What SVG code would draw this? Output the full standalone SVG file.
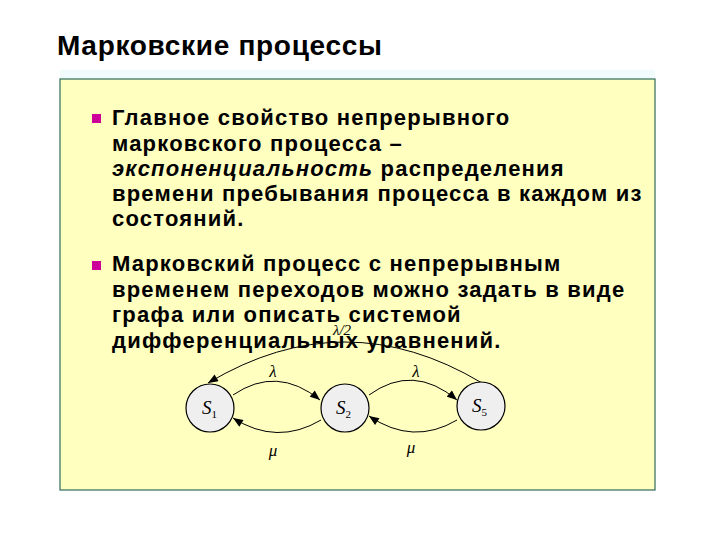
<svg xmlns="http://www.w3.org/2000/svg" width="720" height="540" viewBox="0 0 720 540">
<defs>
<style>
.title{font-family:"Liberation Sans",Arial,sans-serif;font-weight:bold;font-size:28px;letter-spacing:0.7px;fill:#000}
.body{font-family:"Liberation Sans",Arial,sans-serif;font-weight:bold;font-size:22px;letter-spacing:1.2px;fill:#000}
.math{font-family:"Liberation Serif","Times New Roman",serif;font-style:italic;fill:#000}
.node circle{fill:#efefef;stroke:#000;stroke-width:1.2}
.edge{fill:none;stroke:#000;stroke-width:1}
.bullet{fill:#cc0099}
</style>
<marker id="arr" viewBox="0 0 10 8" refX="10" refY="4" markerWidth="11" markerHeight="8" markerUnits="userSpaceOnUse" orient="auto">
<path d="M0,0 L10,4 L0,8 z" fill="#000"/>
</marker>
</defs>
<rect x="0" y="0" width="720" height="540" fill="#fff"/>
<text class="title" x="57" y="55">Марковские процессы</text>
<rect x="60" y="70" width="595" height="9" fill="#f2fbfb"/>
<rect x="60" y="79" width="595" height="411" fill="#ffffc0" stroke="#2f6b5a" stroke-width="1.2"/>
<rect class="bullet" x="92" y="114" width="9" height="9"/>
<text class="body" x="112" y="125">Главное свойство непрерывного</text>
<text class="body" x="112" y="151">марковского процесса –</text>
<text class="body" x="112" y="176"><tspan font-style="italic">экспоненциальность</tspan> распределения</text>
<text class="body" x="112" y="201">времени пребывания процесса в каждом из</text>
<text class="body" x="112" y="226">состояний.</text>
<rect class="bullet" x="92" y="261" width="9" height="9"/>
<text class="body" x="112" y="271">Марковский процесс с непрерывным</text>
<text class="body" x="112" y="297">временем переходов можно задать в виде</text>
<text class="body" x="112" y="322">графа или описать системой</text>
<text class="body" x="112" y="348">дифференциальных уравнений.</text>
<g id="connectors">
<path class="edge" d="M233,395 Q277,365 320,400" marker-end="url(#arr)"/>
<path class="edge" d="M321,420 Q277,446 233,418" marker-end="url(#arr)"/>
<path class="edge" d="M369,395 Q413,363 457,400" marker-end="url(#arr)"/>
<path class="edge" d="M457,420 Q413,446 369,416" marker-end="url(#arr)"/>
<path class="edge" d="M482,383 Q345,301 208,383" marker-end="url(#arr)"/>
<text class="math" x="273" y="377" font-size="17" text-anchor="middle">λ</text>
<text class="math" x="273" y="456" font-size="17" text-anchor="middle">μ</text>
<text class="math" x="416" y="377" font-size="17" text-anchor="middle">λ</text>
<text class="math" x="411" y="453" font-size="17" text-anchor="middle">μ</text>
<text class="math" x="342" y="335" font-size="15" text-anchor="middle">λ/2</text>
</g>
<g id="S1" class="node">
<circle cx="210" cy="408" r="24"/>
<text class="math" x="202" y="414" font-size="19">S<tspan font-size="11" dy="4" font-style="normal">1</tspan></text>
</g>
<g id="S2" class="node">
<circle cx="345" cy="408" r="24"/>
<text class="math" x="336" y="414" font-size="19">S<tspan font-size="11" dy="4" font-style="normal">2</tspan></text>
</g>
<g id="S5" class="node">
<circle cx="481" cy="406" r="24"/>
<text class="math" x="472" y="412" font-size="19">S<tspan font-size="11" dy="4" font-style="normal">5</tspan></text>
</g>
</svg>
